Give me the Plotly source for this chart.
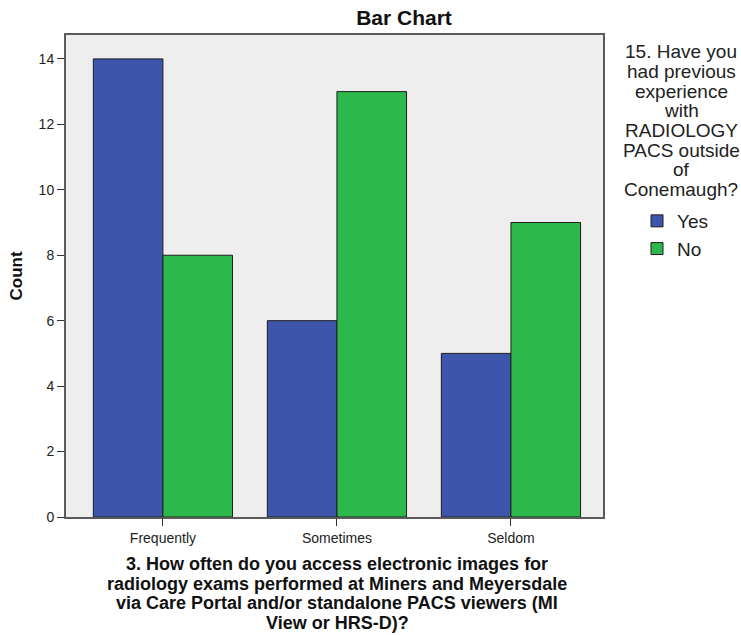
import plotly.graph_objects as go

categories = ["Frequently", "Sometimes", "Seldom"]
yes_counts = [14, 6, 5]
no_counts = [8, 13, 9]
y_ticks = [0, 2, 4, 6, 8, 10, 12, 14]
legend_title_lines = ["15. Have you", "had previous", "experience", "with",
                      "RADIOLOGY", "PACS outside", "of", "Conemaugh?"]
x_title_lines = ["3. How often do you access electronic images for",
                 "radiology exams performed at Miners and Meyersdale",
                 "via Care Portal and/or standalone PACS viewers (MI",
                 "View or HRS-D)?"]

W, H = 741, 635
L, T, R, B = 66, 35, 603, 517


def px_x(p):
    return (p - L) / (R - L)


def px_y(p):
    return (B - p) / (B - T)


fig = go.Figure()
fig.add_trace(go.Bar(x=[0, 1, 2], y=yes_counts, name="Yes",
                     marker=dict(color="#3D56AB", line=dict(color="#1e1e1e", width=1))))
fig.add_trace(go.Bar(x=[0, 1, 2], y=no_counts, name="No",
                     marker=dict(color="#2DB84B", line=dict(color="#1e1e1e", width=1))))

font = "Liberation Sans, Arial, sans-serif"
fig.update_layout(
    width=W, height=H,
    margin=dict(l=L, t=T, r=W - R, b=H - B, pad=0, autoexpand=False),
    paper_bgcolor="white", plot_bgcolor="#EEEEEE",
    barmode="group", bargap=0.2, bargroupgap=0,
    font=dict(family=font, color="#222222", size=14),
    title=dict(text="<b>Bar Chart</b>", x=404 / W, xanchor="center", y=1 - 18 / H, yanchor="middle",
               font=dict(size=21, color="#111111")),
    xaxis=dict(range=[-0.557, 2.529], tickvals=[0, 1, 2], ticktext=categories,
               ticks="outside", ticklen=7, tickcolor="#333333", showgrid=False, zeroline=False,
               showline=True, linecolor="#5a5a5a", linewidth=2, mirror=True, automargin=False,
               tickfont=dict(size=14, color="#222222")),
    yaxis=dict(range=[0, 14.73], tickvals=y_ticks, ticks="outside", ticklen=7, tickcolor="#333333",
               showgrid=False, zeroline=False, showline=True, linecolor="#5a5a5a", linewidth=2, mirror=True,
               automargin=False, tickfont=dict(size=14, color="#222222"),
               title=dict(text="<b>Count</b>", font=dict(size=17, color="#111111"), standoff=12)),
    legend=dict(xref="container", yref="container", x=637 / W, xanchor="left",
                y=1 - 202 / H, yanchor="top",
                font=dict(size=19, color="#222222"), bgcolor="rgba(0,0,0,0)",
                itemwidth=30, tracegroupgap=0),
    showlegend=True,
)

for i, line in enumerate(legend_title_lines):
    fig.add_annotation(
        text=line, xref="paper", yref="paper", x=px_x(681), xanchor="center",
        y=px_y(52 + 19.6 * i), yanchor="middle", showarrow=False,
        font=dict(size=19, color="#222222", family=font),
    )

for i, line in enumerate(x_title_lines):
    fig.add_annotation(
        text="<b>" + line + "</b>", xref="paper", yref="paper", x=px_x(337), xanchor="center",
        y=px_y(564 + 19.5 * i), yanchor="middle", showarrow=False,
        font=dict(size=18, color="#111111", family=font),
    )

fig.write_html("out.html", config={"displayModeBar": False},
               post_script="document.body.style.margin='0';document.body.style.overflow='hidden';")
